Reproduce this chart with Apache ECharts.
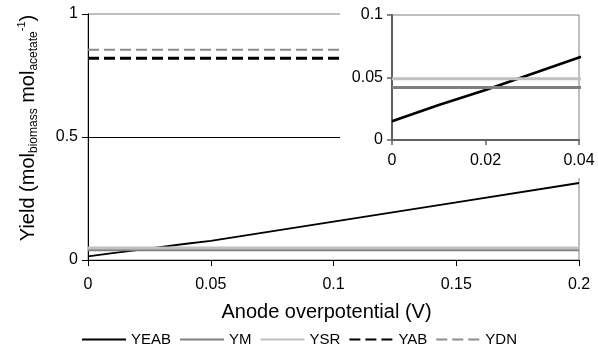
<!DOCTYPE html>
<html><head><meta charset="utf-8">
<script src="https://cdn.jsdelivr.net/npm/echarts@6/dist/echarts.min.js"></script>
<style>html,body{margin:0;padding:0;background:#fff}#c{width:598px;height:354px}</style>
</head><body><div id="c"></div>
<script>
var overpotential = [0, 0.01, 0.02, 0.03, 0.04, 0.05, 0.1, 0.15, 0.2];
var YEAB = [0.015, 0.028, 0.040, 0.053, 0.066, 0.078, 0.156, 0.234, 0.313];
var YM   = [0.042, 0.042, 0.042, 0.042, 0.042, 0.042, 0.042, 0.042, 0.042];
var YSR  = [0.049, 0.049, 0.049, 0.049, 0.049, 0.049, 0.049, 0.049, 0.049];
var YAB  = [0.82, 0.82, 0.82, 0.82, 0.82, 0.82, 0.82, 0.82, 0.82];
var YDN  = [0.855, 0.855, 0.855, 0.855, 0.855, 0.855, 0.855, 0.855, 0.855];
var seriesNames = ['YEAB', 'YM', 'YSR', 'YAB', 'YDN'];
var mainXTicks = {min: 0, max: 0.2, interval: 0.05};
var mainYTicks = {min: 0, max: 1, interval: 0.5};
var insetXTicks = {min: 0, max: 0.04, interval: 0.02};
var insetYTicks = {min: 0, max: 0.1, interval: 0.05};

function pairs(ys){ return overpotential.map(function(x,i){ return [x, ys[i]]; }); }
var styles = {
  YEAB: {color:'#000000', width:[1.8, 2.6], type:'solid'},
  YM:   {color:'#808080', width:[3, 3], type:'solid'},
  YSR:  {color:'#c0c0c0', width:[3, 3], type:'solid'},
  YAB:  {color:'#000000', width:[3, 3], type:[11,5]},
  YDN:  {color:'#8c8c8c', width:[2, 2], type:[11,5]}
};
var dataMap = {YEAB: YEAB, YM: YM, YSR: YSR, YAB: YAB, YDN: YDN};
var font = 'Liberation Sans, Arial, sans-serif';
var series = [];
seriesNames.forEach(function(n){
  var s = styles[n];
  series.push({name:n, type:'line', xAxisIndex:0, yAxisIndex:0, data:pairs(dataMap[n]),
    symbol:'none', showSymbol:false, z:3, silent:true, animation:false,
    lineStyle:{color:s.color, width:s.width[0], type:s.type}, itemStyle:{color:s.color}});
});
seriesNames.forEach(function(n){
  if (n === 'YAB' || n === 'YDN') return;
  var s = styles[n];
  series.push({name:n, type:'line', xAxisIndex:1, yAxisIndex:1, data:pairs(dataMap[n]),
    symbol:'none', showSymbol:false, z:70, clip:true, silent:true, animation:false,
    lineStyle:{color:s.color, width:s.width[1], type:s.type}, itemStyle:{color:s.color}});
});
var chart = echarts.init(document.getElementById('c'), null, {renderer:'canvas'});
chart.setOption({
  backgroundColor:'#ffffff',
  animation:false,
  textStyle:{fontFamily:font},
  grid:[
    {left:88, right:19, top:14, bottom:94, show:true, borderColor:'#808080', borderWidth:1, backgroundColor:'transparent', z:1},
    {left:392, right:19, top:15, bottom:214, show:true, borderColor:'#808080', borderWidth:1, backgroundColor:'transparent', z:60}
  ],
  graphic:[{type:'rect', shape:{x:340, y:0, width:258, height:178}, style:{fill:'#ffffff'}, z:50, silent:true}],
  xAxis:[
    {type:'value', gridIndex:0, min:mainXTicks.min, max:mainXTicks.max, interval:mainXTicks.interval,
     name:'Anode overpotential (V)', nameLocation:'middle', nameGap:42,
     nameTextStyle:{fontSize:20, color:'#000', fontFamily:font, padding:[0,14,0,0]},
     axisLine:{show:true, onZero:false, lineStyle:{color:'#000', width:1}},
     axisTick:{show:true, inside:false, length:6, lineStyle:{color:'#000'}},
     axisLabel:{fontSize:16, color:'#000', margin:17, fontFamily:font},
     splitLine:{show:false}, z:2},
    {type:'value', gridIndex:1, min:insetXTicks.min, max:insetXTicks.max, interval:insetXTicks.interval,
     axisLine:{show:true, onZero:false, lineStyle:{color:'#606060', width:2}},
     axisTick:{show:true, inside:false, length:5, lineStyle:{color:'#606060', width:1.5}},
     axisLabel:{fontSize:16, color:'#000', margin:13, fontFamily:font},
     splitLine:{show:false}, z:65}
  ],
  yAxis:[
    {type:'value', gridIndex:0, min:mainYTicks.min, max:mainYTicks.max, interval:mainYTicks.interval,
     name:'Yield (mol{sub|biomass} mol{sub|acetate}{sup|-1})', nameLocation:'middle', nameGap:48, nameRotate:90,
     nameTextStyle:{fontSize:20, color:'#000', fontFamily:font, lineHeight:24, padding:[0,0,0,18],
       rich:{sub:{fontSize:12, color:'#000', fontFamily:font, verticalAlign:'bottom', lineHeight:24, padding:[7,0,0,0]},
             sup:{fontSize:11, color:'#000', fontFamily:font, verticalAlign:'top', lineHeight:24, padding:[0,0,9,0]}}},
     axisLine:{show:true, onZero:false, lineStyle:{color:'#000', width:1}},
     axisTick:{show:true, inside:false, length:6, lineStyle:{color:'#000'}},
     axisLabel:{fontSize:16, color:'#000', margin:10, fontFamily:font},
     splitLine:{show:true, showMinLine:false, showMaxLine:false, lineStyle:{color:'#000', width:1}}, z:2},
    {type:'value', gridIndex:1, min:insetYTicks.min, max:insetYTicks.max, interval:insetYTicks.interval,
     axisLine:{show:true, onZero:false, lineStyle:{color:'#606060', width:2}},
     axisTick:{show:true, inside:false, length:5, lineStyle:{color:'#606060', width:1.5}},
     axisLabel:{fontSize:16, color:'#000', margin:9, fontFamily:font},
     splitLine:{show:false}, z:65}
  ],
  legend:{data:seriesNames, bottom:2, left:'center', itemWidth:44, itemHeight:10, itemGap:8,
    itemStyle:{opacity:0, borderWidth:0},
    textStyle:{fontSize:15, color:'#000', fontFamily:font}, selectedMode:false},
  series:series
});
</script></body></html>
